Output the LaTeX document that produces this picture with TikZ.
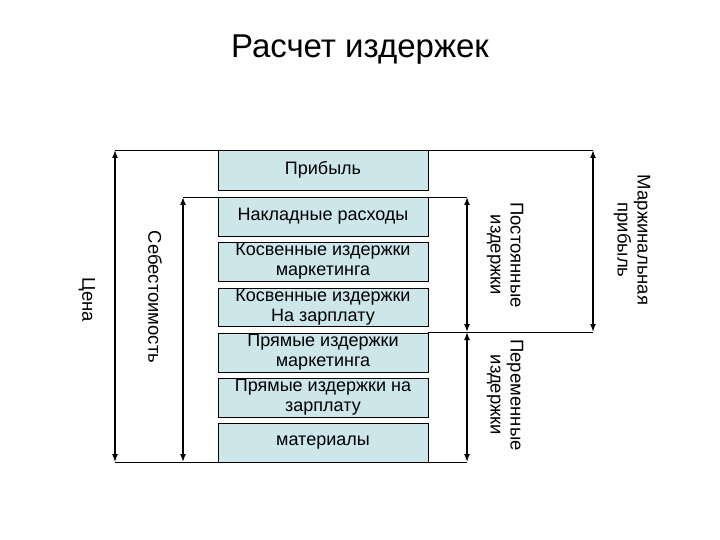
\documentclass[tikz,border=0pt]{standalone}
\usepackage{fontspec}
\setmainfont{Liberation Sans}
\usetikzlibrary{arrows.meta}
\definecolor{boxfill}{HTML}{CDE6EA}
\begin{document}
\begin{tikzpicture}[x=1pt,y=-1pt,
  cell/.style={draw=black,fill=boxfill,minimum width=210pt,align=center,inner sep=0pt,font=\fontsize{18}{20}\selectfont},
  dim/.style={line width=1.5pt,{Latex[length=8pt,width=6pt]}-{Latex[length=8pt,width=6pt]}},
  lab/.style={rotate=-90,align=center,font=\fontsize{18.5}{20}\selectfont}]
\useasboundingbox (0,0) rectangle (720,540);
\node[font=\fontsize{33}{35}\selectfont] (title) at (360,50) {Расчет издержек};
\node[cell,minimum height=40pt] (b1) at (323,170) {Прибыль};
\node[cell,minimum height=39pt] (b2) at (323,216.5) {Накладные расходы};
\node[cell,minimum height=39pt] (b3) at (323,261.5) {Косвенные издержки\\маркетинга};
\node[cell,minimum height=38pt] (b4) at (323,307) {Косвенные издержки\\На зарплату};
\node[cell,minimum height=39pt] (b5) at (323,352.5) {Прямые издержки\\маркетинга};
\node[cell,minimum height=39pt] (b6) at (323,397.5) {Прямые издержки на\\зарплату};
\node[cell,minimum height=39pt] (b7) at (323,442.5) {материалы};
\coordinate (ct) at (115,150); \coordinate (cb) at (115,462);
\coordinate (st) at (183,197); \coordinate (sb) at (183,462);
\coordinate (pt) at (467,197); \coordinate (pm) at (467,332); \coordinate (pb) at (467,462);
\coordinate (mt) at (593,150); \coordinate (mb) at (593,332);
\draw (ct) -- (mt);
\draw (st) -- (pt);
\draw (b4.south east |- pm) -- (mb);
\draw (cb) -- (pb);
\draw[dim] (ct) -- (cb);
\draw[dim] (st) -- (sb);
\draw[dim] (pt) -- (pm);
\draw[dim] (pm) -- (pb);
\draw[dim] (mt) -- (mb);
\node[lab] (l1) at (87,300) {Цена};
\node[lab] (l2) at (155,297) {Себестоимость};
\node[lab] (l3) at (505,255) {Постоянные\\издержки};
\node[lab] (l4) at (505,395) {Переменные\\издержки};
\node[lab] (l5) at (632,240) {Маржинальная\\прибыль};
\end{tikzpicture}
\end{document}
